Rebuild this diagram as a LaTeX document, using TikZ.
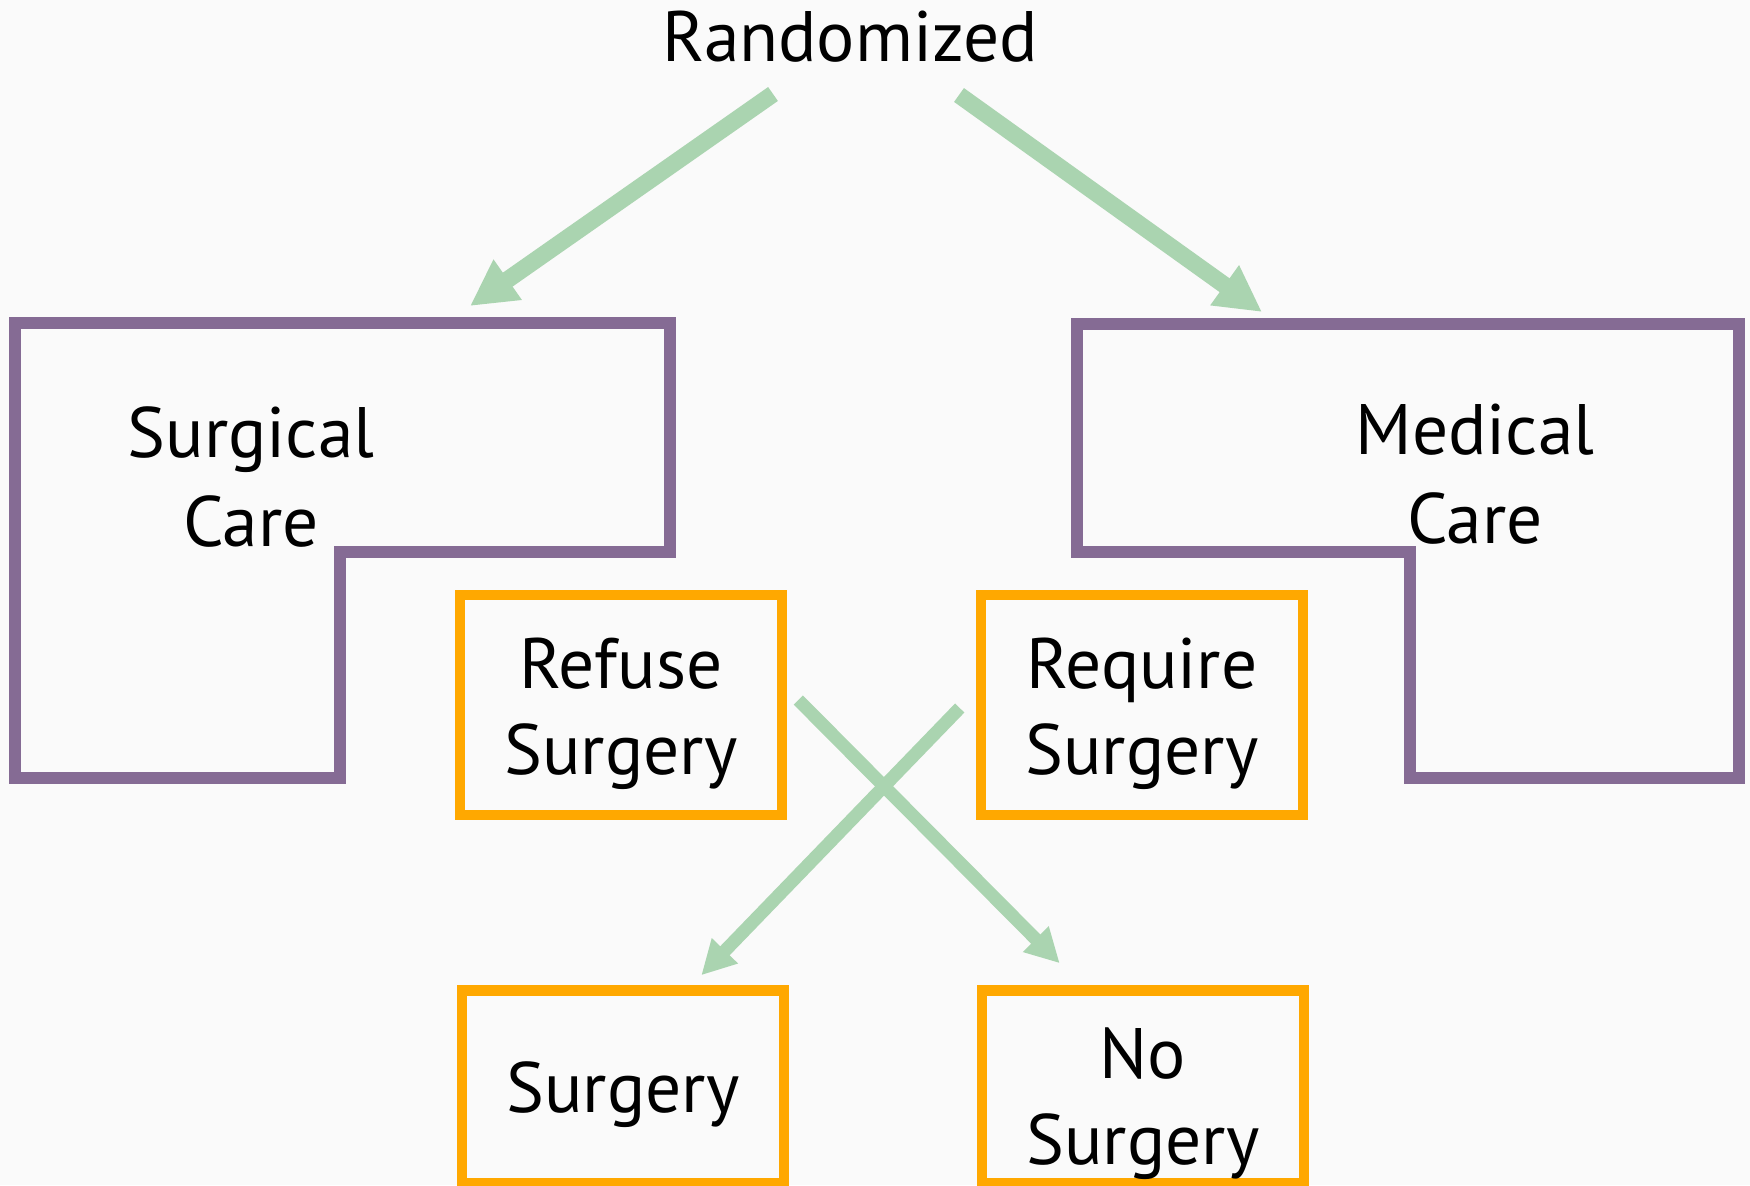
\documentclass[tikz,border=0pt]{standalone}
\usepackage{fontspec}
\setmainfont{PT Sans}
\usetikzlibrary{arrows.meta, positioning}
\definecolor{mauve}{RGB}{133,107,148}
\definecolor{vert}{RGB}{170,212,176}
\definecolor{ambre}{RGB}{255,168,0}
\definecolor{fond}{RGB}{250,250,250}

\begin{document}
\begin{tikzpicture}[x=0.5pt, y=-0.5pt, font=\fontsize{35.7}{43}\selectfont,
		boite/.style={draw=ambre, line width=5.3pt, minimum width=161pt, inner sep=0pt},
		texte/.style={align=center, inner sep=0pt},
		bras/.style={draw=mauve, line width=6pt, line join=miter},
		fleche/.style={draw=vert, line width=8.5pt, -{Triangle[length=23pt, width=23pt]}},
		croix/.style={draw=vert, line width=6.5pt, -{Triangle[length=17pt, width=17pt]}}]
				
				\useasboundingbox (0,0) rectangle (1750,1185);
				\fill[fond] (0,0) rectangle (1750,1185);
				
				% Titre
				\node[anchor=base] (rand) at (850,61) {Randomized};
				
				% Bras chirurgical / medical
				\draw[bras] (15,323) -- (670,323) -- (670,552) -- (340,552) -- (340,778) -- (15,778) -- cycle;
				\draw[bras] (1077,324) -- (1739,324) -- (1739,778) -- (1410,778) -- (1410,552) -- (1077,552) -- cycle;
				\node[texte, font=\fontsize{35.7}{44.5}\selectfont] (surgical) at (251,477) {Surgical\\Care};
				\node[texte, font=\fontsize{35.7}{44.5}\selectfont] (medical) at (1475,474) {Medical\\Care};
				\coordinate (surgicalIn) at (470,306);
				\coordinate (medicalIn) at (1262,312);
				
				% Cas particuliers
				\node[boite, minimum height=110pt] (refuse) at (621,705) {};
				\node[boite, minimum height=110pt] (require) at (1142,705) {};
				\node[boite, minimum height=96.5pt] (surgery) at (623,1087) {};
				\node[boite, minimum height=96.5pt] (nosurgery) at (1143,1087) {};
				\node[texte, yshift=-4.5pt] (refuseTxt) at (refuse) {Refuse\\Surgery};
				\node[texte, yshift=-4.5pt] (requireTxt) at (require) {Require\\Surgery};
				\node[texte, yshift=-4pt] (surgeryTxt) at (surgery) {Surgery};
				\node[texte, yshift=-8.5pt] (nosurgeryTxt) at (nosurgery) {No\\Surgery};
				
				% Fleches
				\draw[fleche] ([shift={(-77,33)}]rand.base) -- (surgicalIn);
				\draw[fleche] ([shift={(109,34)}]rand.base) -- (medicalIn);
				\draw[croix] ([shift={(11,-5)}]refuse.east) -- ([shift={(83,-22)}]nosurgery.north west);
				\draw[croix] ([shift={(-16,3)}]require.west) -- ([shift={(-88,-10)}]surgery.north east);
				
			\end{tikzpicture}
\end{document}
